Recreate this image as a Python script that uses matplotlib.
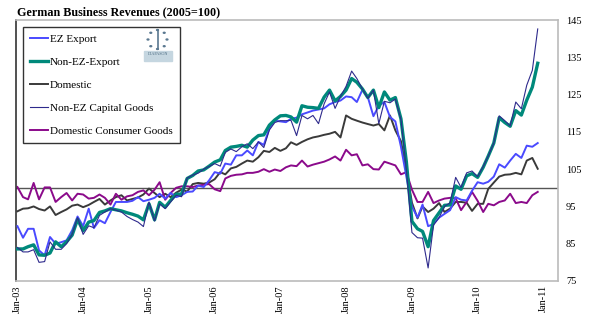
import numpy as np
import pandas as pd
import matplotlib
matplotlib.use("Agg")
import matplotlib.pyplot as plt
import matplotlib.dates as mdates
from matplotlib.patches import Rectangle, Circle
from matplotlib.lines import Line2D

plt.rcParams['font.family'] = ['Liberation Serif', 'DejaVu Serif']

# monthly data, Jan-03 .. Dec-10 (2005=100)
dates = pd.date_range('2003-01-01', periods=96, freq='MS')

ez_export = [
    89.7, 86.6, 89.0, 89.0, 83.2, 81.9, 86.8, 85.0, 85.4, 85.9, 88.6, 92.3,
    89.7, 94.4, 89.2, 91.3, 90.5, 93.5, 96.2, 96.2, 96.2, 96.5, 97.5, 96.4,
    96.8, 97.3, 98.4, 97.1, 98.6, 97.5, 98.0, 98.9, 99.0, 100.6, 100.2, 102.0,
    104.2, 103.8, 106.5, 106.2, 108.7, 108.7, 110.0, 108.7, 112.3, 111.5, 116.0, 118.0,
    117.8, 117.6, 118.5, 118.8, 119.7, 120.2, 120.7, 121.0, 121.3, 122.4, 123.0, 123.4,
    124.5, 124.3, 123.0, 126.3, 124.3, 119.2, 122.0, 123.0, 119.0, 117.8, 111.0, 103.0,
    95.0, 92.0, 95.5, 89.7, 90.3, 92.0, 93.0, 94.0, 97.5, 96.8, 96.6, 99.2,
    101.5, 101.1, 101.6, 103.0, 106.3, 105.4, 107.3, 109.1, 108.0, 111.3, 111.0, 112.0,
]

non_ez_export = [
    83.6, 83.6, 84.2, 84.7, 82.0, 81.9, 82.5, 85.5, 84.2, 85.5, 87.3, 91.5,
    88.5, 90.8, 91.2, 93.4, 93.8, 94.4, 94.1, 93.8, 93.3, 92.9, 92.4, 91.4,
    95.7, 91.4, 96.1, 94.8, 96.6, 98.3, 98.3, 102.5, 103.3, 104.5, 104.8, 105.8,
    106.9, 107.5, 110.0, 110.9, 111.1, 111.4, 110.9, 112.8, 114.0, 114.2, 116.8, 118.2,
    119.3, 119.4, 119.0, 117.6, 122.0, 121.6, 121.5, 121.3, 124.3, 126.2, 123.3, 124.5,
    126.2, 129.3, 128.3, 126.5, 124.2, 126.2, 121.5, 125.7, 123.5, 124.2, 118.5, 107.0,
    91.0, 89.0, 88.3, 84.2, 91.2, 93.3, 95.3, 95.4, 100.5, 99.6, 103.2, 103.8,
    102.8, 105.5, 108.5, 112.0, 118.8, 117.5, 116.5, 120.7, 119.5, 123.5, 127.0, 133.4,
]

domestic = [
    93.7, 94.4, 94.5, 95.0, 94.3, 93.9, 95.0, 92.7, 93.5, 94.2, 95.2, 95.5,
    94.8, 95.4, 96.2, 97.0, 95.5, 96.6, 97.5, 98.0, 96.6, 97.0, 97.4, 98.2,
    99.8, 98.6, 97.5, 98.4, 97.5, 98.7, 99.5, 99.0, 101.0, 101.3, 101.1, 101.4,
    102.3, 104.2, 103.6, 105.2, 105.6, 106.5, 107.3, 107.0, 108.2, 109.9, 109.6, 110.7,
    109.9, 110.6, 112.2, 111.5, 112.3, 113.0, 113.5, 113.8, 114.2, 114.5, 115.0, 113.5,
    119.4, 118.5, 118.0, 117.5, 117.1, 116.7, 117.1, 115.4, 119.4, 115.4, 112.5, 105.0,
    96.0, 91.8, 95.0, 93.5, 94.4, 95.9, 93.5, 94.4, 96.2, 96.2, 96.0, 93.8,
    95.7, 95.7, 99.7, 101.4, 103.0, 103.5, 103.6, 104.0, 103.6, 107.3, 108.0, 105.1,
]

non_ez_capital = [
    84.0, 82.8, 82.8, 83.4, 80.0, 80.2, 85.5, 83.5, 83.5, 85.0, 87.5, 92.0,
    87.5, 89.8, 89.3, 92.6, 93.5, 94.4, 94.0, 93.5, 92.3, 91.5, 90.8, 89.6,
    96.2, 91.1, 95.7, 94.4, 96.2, 98.0, 97.6, 102.6, 103.4, 103.9, 105.0, 105.7,
    106.5, 105.8, 109.5, 110.4, 109.7, 111.0, 111.8, 110.5, 112.3, 110.8, 115.5, 117.5,
    118.0, 118.0, 118.1, 114.0, 119.4, 118.5, 119.4, 117.2, 122.5, 125.7, 121.3, 124.5,
    127.2, 131.3, 129.3, 126.5, 124.0, 126.2, 117.2, 123.2, 122.8, 123.8, 118.3, 105.0,
    88.0, 86.6, 86.5, 78.5, 90.0, 92.0, 95.0, 96.0, 102.8, 100.1, 104.0, 104.5,
    103.0, 105.7, 108.5, 112.0, 119.3, 118.0, 116.6, 123.0, 121.2, 127.5, 131.5, 142.6,
]

domestic_consumer = [
    100.2, 97.5, 96.9, 101.3, 96.9, 100.1, 100.1, 96.2, 97.5, 98.6, 96.6, 98.4,
    98.2, 97.1, 97.3, 98.2, 97.3, 95.5, 98.4, 96.8, 97.7, 98.0, 98.9, 99.3,
    98.0, 99.5, 101.5, 96.8, 98.6, 100.0, 100.4, 100.4, 100.2, 100.6, 100.8, 101.0,
    99.6, 99.1, 102.5, 103.2, 103.5, 103.6, 104.0, 104.0, 104.3, 105.0, 104.3, 104.9,
    104.5, 105.5, 106.0, 105.8, 107.3, 105.7, 106.2, 106.6, 107.0, 107.6, 108.4, 107.3,
    110.2, 108.7, 109.0, 106.0, 106.3, 105.0, 104.9, 107.0, 106.5, 106.0, 103.6, 104.2,
    99.5, 96.2, 96.2, 98.9, 95.9, 96.6, 97.1, 97.3, 97.2, 94.0, 96.2, 98.9,
    96.5, 93.5, 95.7, 95.3, 96.2, 96.6, 98.4, 95.9, 96.2, 95.9, 98.0, 98.9,
]

fig = plt.figure(figsize=(5.94, 3.23), dpi=100)
ax = fig.add_axes([16/594, 1-281/323, 541.7/594, 261/323])

ax.axhline(100, color='#555555', lw=1.0, zorder=1)

ax.plot(dates, ez_export, color='#4a4aff', lw=1.4, label='EZ Export', zorder=3)
ax.plot(dates, non_ez_export, color='#00897b', lw=2.4, label='Non-EZ-Export', zorder=4)
ax.plot(dates, domestic, color='#3a3a3a', lw=1.4, label='Domestic', zorder=2)
ax.plot(dates, non_ez_capital, color='#2e2a8c', lw=0.8, label='Non-EZ Capital Goods', zorder=5)
ax.plot(dates, domestic_consumer, color='#8b0a8b', lw=1.4, label='Domestic Consumer Goods', zorder=2)

ax.set_xlim(pd.Timestamp('2002-12-24'), pd.Timestamp('2011-03-22'))
ax.set_ylim(75, 145)
ax.set_yticks(np.arange(75, 146, 10))
ax.yaxis.tick_right()
ax.tick_params(axis='y', length=0, pad=6, labelsize=7.5)

ax.xaxis.set_major_locator(mdates.YearLocator())
ax.xaxis.set_major_formatter(mdates.DateFormatter('%b-%y'))
ax.tick_params(axis='x', length=0, pad=3, labelsize=7.5, labelrotation=90)

for side in ['top', 'right', 'bottom']:
    ax.spines[side].set_color('#bbbbbb')
    ax.spines[side].set_linewidth(1.2)
ax.spines['left'].set_color('#333333')
ax.spines['left'].set_linewidth(1.2)

leg = ax.legend(loc='upper left', bbox_to_anchor=(6.7/541.7, 1-6.7/261), borderaxespad=0,
                fontsize=8, frameon=True, fancybox=False, framealpha=1,
                edgecolor='#333333', labelspacing=1.2, handlelength=1.6,
                handletextpad=0.2, borderpad=0.65)
leg.get_frame().set_linewidth(1.0)
leg.set_zorder(10)

fig.text(17/594, 1-12/323, 'German Business Revenues (2005=100)', fontsize=8.7,
         fontweight='bold', ha='left', va='center')

# small logo inside the legend box
W, H = 594, 323
cx, cy, r = 157.5, 39.5, 9.5
for a in np.linspace(0, 2*np.pi, 9)[:-1]:
    fig.patches.append(Circle(((cx + r*np.cos(a))/W, 1-(cy + r*np.sin(a))/H), 0.9/W,
                              transform=fig.transFigure, color='#5a7890', zorder=12))
fig.lines.append(Line2D([cx/W, cx/W], [1-30/H, 1-49/H], transform=fig.transFigure,
                        color='#5a7890', lw=1.2, zorder=12))
fig.patches.append(Rectangle((144/W, 1-61/H), 28/W, 10/H, transform=fig.transFigure,
                             color='#c5d6e0', zorder=12))
fig.text(158/W, 1-54/H, 'DIAPASON', fontsize=3, color='#4a6a80', ha='center',
         va='center', zorder=13)

fig.savefig('out.png', dpi=100)
